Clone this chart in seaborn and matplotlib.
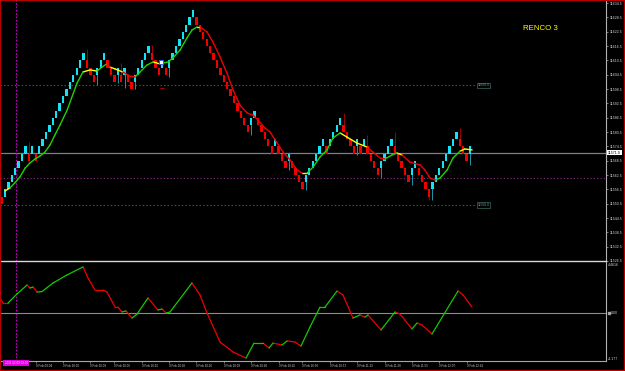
import numpy as np
import pandas as pd
import matplotlib
matplotlib.use("Agg")
import matplotlib.pyplot as plt
import seaborn as sns
from matplotlib.patches import Rectangle
from matplotlib.transforms import blended_transform_factory

# ---------------- data ----------------
BRICK = 3.0
brick_dir = ("r c c c c c c c r c r c c c c c c c c c c c c c c r r r c c c r r r c r c r r c "
             "c c c c r r r c r c c c c c c c c r r r r r r r r r r r r r r r r c c r r r r r c "
             "r r r c r r r r c c c c c c r c c c c r r r r c r c r r r r c c c c r r r r r c c "
             "r r r r c c c c c c c c r r r c").split()
brick_low = [11550.5, 11553.5, 11556.5, 11559.5, 11562.5, 11565.5, 11568.5, 11571.5, 11568.5, 11571.5,
             11568.5, 11571.5, 11574.5, 11577.5, 11580.5, 11583.5, 11586.5, 11589.5, 11592.5, 11595.5,
             11598.5, 11601.5, 11604.5, 11607.5, 11610.5, 11607.5, 11604.5, 11601.5, 11604.5, 11607.5,
             11610.5, 11607.5, 11604.5, 11601.5, 11604.5, 11601.5, 11604.5, 11601.5, 11598.5, 11601.5,
             11604.5, 11607.5, 11610.5, 11613.5, 11610.5, 11607.5, 11604.5, 11607.5, 11604.5, 11607.5,
             11610.5, 11613.5, 11616.5, 11619.5, 11622.5, 11625.5, 11628.5, 11625.5, 11622.5, 11619.5,
             11616.5, 11613.5, 11610.5, 11607.5, 11604.5, 11601.5, 11598.5, 11595.5, 11592.5, 11589.5,
             11586.5, 11583.5, 11580.5, 11583.5, 11586.5, 11583.5, 11580.5, 11577.5, 11574.5, 11571.5,
             11574.5, 11571.5, 11568.5, 11565.5, 11568.5, 11565.5, 11562.5, 11559.5, 11556.5, 11559.5,
             11562.5, 11565.5, 11568.5, 11571.5, 11574.5, 11571.5, 11574.5, 11577.5, 11580.5, 11583.5,
             11580.5, 11577.5, 11574.5, 11571.5, 11574.5, 11571.5, 11574.5, 11571.5, 11568.5, 11565.5,
             11562.5, 11565.5, 11568.5, 11571.5, 11574.5, 11571.5, 11568.5, 11565.5, 11562.5, 11559.5,
             11562.5, 11565.5, 11562.5, 11559.5, 11556.5, 11553.5, 11556.5, 11559.5, 11562.5, 11565.5,
             11568.5, 11571.5, 11574.5, 11577.5, 11574.5, 11571.5, 11568.5, 11571.5]
wick_bar = [8, 25, 28, 34, 35, 36, 39, 44, 49, 73, 84, 89, 100, 104, 107, 111, 115, 120, 125, 126, 134, 137]
wick_end = [11576.4, 11615.2, 11600.2, 11601.0, 11609.4, 11598.9, 11598.5, 11616.9, 11603.5, 11579.2,
            11564.6, 11556.2, 11588.5, 11570.9, 11579.2, 11561.3, 11580.5, 11558.3, 11552.0, 11552.0,
            11582.2, 11566.7]

ma_x = [1.0, 2.5, 3.9, 5.4, 6.9, 8.3, 9.8, 11.3, 12.7, 14.2, 15.6, 17.1, 19.2, 22.1, 23.8, 25.9, 27.9,
        29.4, 30.8, 31.7, 33.2, 35.5, 37.6, 39.0, 40.5, 42.5, 44.3, 45.5, 47.2, 48.7, 50.1, 52.2, 54.2,
        55.7, 57.2, 58.0, 60.1, 61.8, 63.9, 65.9, 67.7, 69.7, 71.8, 73.5, 75.0, 77.0, 78.5, 80.6, 82.3,
        84.4, 86.4, 87.9, 89.3, 91.1, 93.1, 95.2, 96.9, 99.0, 101.0, 103.9, 106.9, 108.6, 110.7, 112.1,
        114.2, 115.6, 117.1, 119.4, 122.4, 123.8, 125.3, 126.8, 128.2, 130.3, 132.0, 134.1, 135.5, 137.6]
ma_y = [11555.8, 11557.1, 11559.2, 11561.7, 11565.4, 11567.5, 11569.2, 11570.5, 11572.1, 11575.1,
        11579.2, 11583.4, 11589.7, 11601.0, 11605.6, 11606.5, 11606.0, 11607.7, 11609.0, 11607.7,
        11606.9, 11605.6, 11603.9, 11603.5, 11605.6, 11608.5, 11609.8, 11609.4, 11609.4, 11609.8,
        11611.5, 11614.8, 11619.8, 11623.2, 11624.5, 11624.5, 11622.4, 11618.2, 11611.9, 11605.2,
        11598.1, 11591.8, 11588.5, 11587.6, 11585.5, 11582.2, 11580.5, 11575.9, 11572.1, 11568.8,
        11564.6, 11563.3, 11563.3, 11565.8, 11570.0, 11573.0, 11578.0, 11580.1, 11578.4, 11575.9,
        11574.2, 11572.1, 11569.6, 11569.2, 11570.9, 11571.7, 11570.9, 11567.9, 11566.7, 11564.6,
        11561.2, 11560.4, 11561.2, 11564.6, 11569.6, 11572.5, 11573.4, 11573.0]
ma_col = ("y g g g g g g g g g g g g g y y g g r y y r r g g g y y g g g g g g y r r r r r r r r r r r r r r "
          "r r y g g g g g y y y r r r g g y r r r r r g g g g y y").split()

osc_x = [-0.4, 0.44, 1.9, 4.53, 7.46, 8.33, 9.21, 10.38, 11.84, 15.06, 19.15, 23.83, 25.29, 27.34, 29.68,
         30.85, 33.19, 34.06, 35.23, 36.4, 38.16, 39.62, 42.84, 45.76, 46.93, 48.1, 49.27, 55.7, 58.04,
         60.09, 63.89, 67.69, 71.49, 73.83, 76.46, 78.22, 79.39, 82.02, 83.48, 85.82, 87.57, 90.2, 93.13,
         94.59, 98.1, 99.85, 102.78, 104.82, 106.29, 107.16, 110.96, 115.06, 116.52, 120.03, 121.49,
         122.95, 125.88, 133.48, 134.94, 137.57]
osc_y = [1.32, 0.88, 0.88, 1.67, 2.45, 2.19, 2.28, 1.84, 1.88, 2.63, 3.33, 4.03, 3.07, 2.02, 2.02, 1.84,
         0.53, 0.53, 0.10, 0.19, -0.43, -0.08, 1.32, 0.27, 0.36, 0.01, 0.10, 2.63, 1.58, 0.01, -2.52,
         -3.39, -3.92, -2.61, -2.61, -3.04, -2.61, -2.78, -2.43, -2.52, -2.87, -1.21, 0.53, 0.53, 1.93,
         1.58, -0.43, -0.16, -0.34, -0.16, -1.47, 0.10, -0.08, -1.38, -0.86, -1.04, -1.82, 1.93, 1.58, 0.53]
osc_col = ("r r g g r g r g g g g r r r r r r r g r g g r g r g g r r r r r g g r g r g r r g g g g r r g r g r "
           "g r r g r r g r r").split()

price_ticks = [11634.5 - 6 * i for i in range(19)]
current_price = 11571.9
level_hi, level_lo = 11600.0, 11550.0
purple_level = 11561.3
marker_bar = 4.24
time_pos = [10, 18, 26, 33, 41, 49, 57, 65, 73, 81, 88, 96, 104, 112, 120, 128, 136]
time_labels = ["9 Feb 09:04", "9 Feb 10:00", "9 Feb 10:03", "9 Feb 10:06", "9 Feb 10:15", "9 Feb 10:20",
               "9 Feb 10:26", "9 Feb 10:29", "9 Feb 10:40", "9 Feb 10:45", "9 Feb 10:50", "9 Feb 10:57",
               "9 Feb 11:13", "9 Feb 11:20", "9 Feb 11:55", "9 Feb 12:07", "9 Feb 12:41"]
osc_max, osc_min = 4.4616, -4.177

# ---------------- style ----------------
sns.set_style("dark", {"axes.facecolor": "black", "figure.facecolor": "black"})
plt.rcParams["font.family"] = ["Liberation Sans", "DejaVu Sans"]

W, H = 625, 371
fig = plt.figure(figsize=(W / 100, H / 100), dpi=100)
fig.patch.set_facecolor("black")
ax = fig.add_axes([0, (H - 261) / H, 606 / W, 261 / H])
ax2 = fig.add_axes([0, (H - 361) / H, 606 / W, 100 / H])
for a in (ax, ax2):
    a.set_facecolor("black")
    a.grid(False)
    for s in a.spines.values():
        s.set_visible(False)
    a.set_xlim(-0.44, 176.75)

CYAN, RED = "#12e4f6", "#f20000"
CYAN_W, RED_W = "#1f95a6", "#a00000"

# -------- main panel --------
ax.set_ylim(11526.5, 11635.76)
xb = np.arange(len(brick_low))
cols = [CYAN if d == "c" else RED for d in brick_dir]
lows = np.array(brick_low)

# reference lines
ax.axhline(current_price, color="#75808a", lw=0.9, zorder=1)
ax.axhline(purple_level, color="#8a2a84", lw=0.8, ls=(0, (1, 2)), zorder=1)
ax.hlines([level_hi, level_lo], -0.44, 138.7, color="#3a5e58", lw=0.8, ls=(0, (1.2, 2)), zorder=1)
for lv in (level_hi, level_lo):
    ax.text(139.2, lv, f"{lv:.1f}", fontsize=2.4, color="#6f9e96", va="center", ha="left",
            bbox=dict(boxstyle="square,pad=0.25", fc="black", ec="#3d6a64", lw=0.5), zorder=4)
ax.axvline(marker_bar, color="#c800c8", lw=0.8, ls=(0, (1.5, 1.5)), zorder=1)
ax2.axvline(marker_bar, color="#c800c8", lw=0.8, ls=(0, (1.5, 1.5)), zorder=1)

# wicks
for b, e in zip(wick_bar, wick_end):
    lo, hi = brick_low[b], brick_low[b] + BRICK
    wc = CYAN_W if brick_dir[b] == "c" else RED_W
    ax.vlines(b, min(e, lo), max(e, hi), color=wc, lw=0.7, zorder=2)

# bricks
ax.bar(xb, BRICK, bottom=lows, width=0.68, color=cols, linewidth=0, zorder=3)

# moving average (coloured segments)
def seg_frame(xs, ys, cs):
    rows = []
    for i, c in enumerate(cs):
        rows.append((xs[i], ys[i], i, c))
        rows.append((xs[i + 1], ys[i + 1], i, c))
    return pd.DataFrame(rows, columns=["x", "y", "seg", "col"])

ma_df = seg_frame(ma_x, ma_y, ma_col)
sns.lineplot(data=ma_df, x="x", y="y", hue="col", units="seg", estimator=None, sort=False,
             palette={"g": "#1ed400", "r": "#f00000", "y": "#ffff00"}, legend=False,
             linewidth=1.0, ax=ax, zorder=5)

# small markers
ax.plot([46.6], [11609.8], marker="s", ms=2.2, mfc="#ffffff", mec="#2a48ff", mew=0.6, zorder=6)
ax.plot([47.0], [11598.9], marker="_", ms=2.5, color="#c00000", mew=0.8, zorder=6)

ax.set_xlabel("")
ax.set_ylabel("")
ax.set_xticks([])
ax.yaxis.tick_right()
ax.set_yticks(price_ticks)
ax.set_yticklabels([f"{p:.1f}" for p in price_ticks])
ax.tick_params(axis="y", right=True, left=False, length=1.5, width=0.5, color="#b0b0b0",
               labelsize=2.6, labelcolor="#d0d0d0", pad=1.2)
ax.spines["right"].set_visible(True)
ax.spines["right"].set_color("#b0b0b0")
ax.spines["right"].set_linewidth(0.8)

tr = blended_transform_factory(ax.transAxes, ax.transData)
ax.text(1.0035, current_price, f"{current_price:.1f}", transform=tr, fontsize=2.6, color="black",
        va="center", ha="left", clip_on=False, zorder=10,
        bbox=dict(boxstyle="square,pad=0.2", fc="white", ec="none"))

# -------- oscillator panel --------
ax2.set_ylim(osc_min, 4.549)
ax2.axhline(0, color="#8c8c8c", lw=0.8, zorder=1)
osc_df = seg_frame(osc_x, osc_y, osc_col)
sns.lineplot(data=osc_df, x="x", y="y", hue="col", units="seg", estimator=None, sort=False,
             palette={"g": "#14c800", "r": "#f00000"}, legend=False, linewidth=0.9, ax=ax2, zorder=4)
ax2.set_xlabel("")
ax2.set_ylabel("")
ax2.set_yticks([])
for side, col, lw in (("top", "#d8d8d8", 1.0), ("bottom", "#a8a8a8", 0.8), ("right", "#b0b0b0", 0.8)):
    ax2.spines[side].set_visible(True)
    ax2.spines[side].set_color(col)
    ax2.spines[side].set_linewidth(lw)
ax2.set_xticks(time_pos)
ax2.set_xticklabels(time_labels)
for lbl in ax2.get_xticklabels():
    lbl.set_ha("left")
ax2.tick_params(axis="x", bottom=True, length=1.5, width=0.5, color="#a0a0a0", labelsize=2.2,
                labelcolor="#c8c8c8", pad=0.8)

tr2 = blended_transform_factory(ax2.transAxes, ax2.transData)
ax2.text(1.0035, 4.20, f"{osc_max:.4f}", transform=tr2, fontsize=2.6, color="#d0d0d0",
         va="center", ha="left", clip_on=False)
ax2.text(1.0085, 0.0, "0.00", transform=tr2, fontsize=2.6, color="#d0d0d0",
         va="center", ha="left", clip_on=False)
ax2.plot([1.0045], [0.0], marker="s", ms=2.0, color="#a8a8a8", transform=tr2, clip_on=False)
ax2.text(1.0035, -3.96, f"{osc_min:.3f}", transform=tr2, fontsize=2.6, color="#d0d0d0",
         va="center", ha="left", clip_on=False)

# time marker box at bottom-left
ax2.text(marker_bar, -4.177, "2021.02.09 09:00", fontsize=2.2, color="#ffc8ff", ha="center", va="top",
         clip_on=False, zorder=10,
         bbox=dict(boxstyle="square,pad=0.35", fc="#e000e0", ec="none"))

# title text
fig.text(523 / W, 1 - 28 / H, "RENCO 3", color="#ffff00", fontsize=5.7, ha="left", va="center")

# red frame
fig.patches.append(Rectangle((0, 0), 1, 1, transform=fig.transFigure, fill=False,
                             ec="#b80000", lw=1.6, zorder=20))

fig.savefig("out.png", dpi=100, facecolor="black")
